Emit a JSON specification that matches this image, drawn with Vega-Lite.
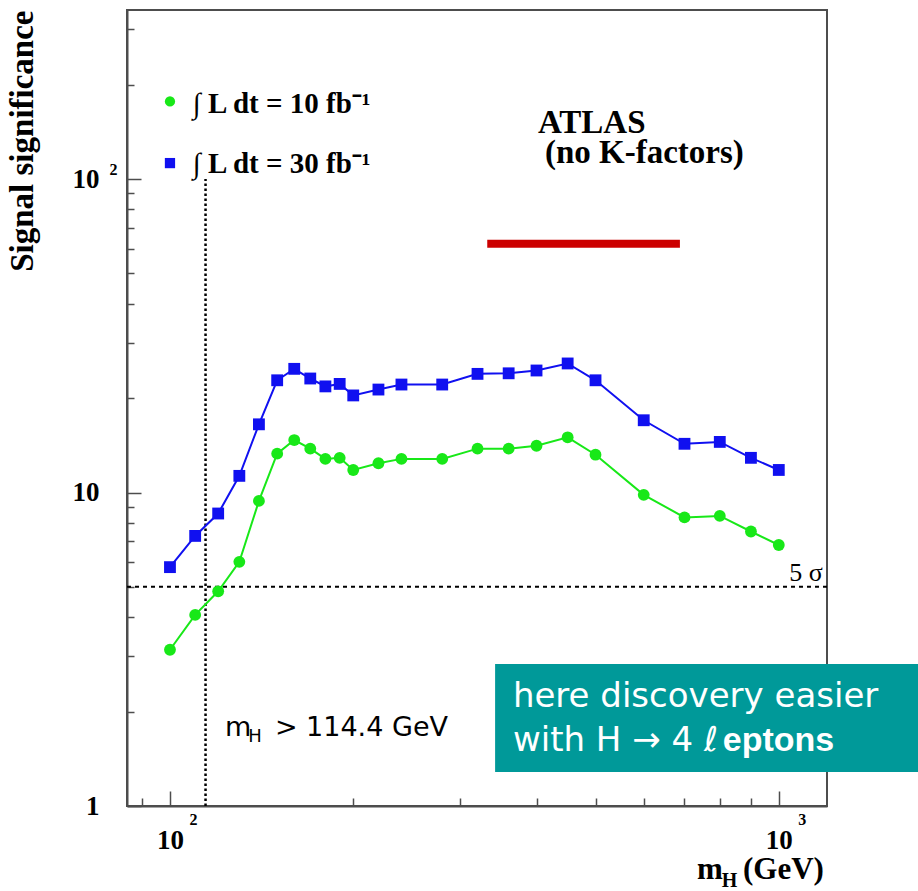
{
  "$schema": "https://vega.github.io/schema/vega-lite/v6.json",
  "width": 700,
  "height": 796,
  "autosize": {"type": "none"},
  "padding": {"left": 127, "top": 10, "right": 91, "bottom": 85},
  "background": "white",
  "config": {"view": {"stroke": "#4d4d4d", "strokeWidth": 2}, "axis": {"grid": false}},
  "datasets": {
    "sig": [
      {"m": 100, "s": 3.15, "series": "10"}, {"m": 110, "s": 4.07, "series": "10"}, {"m": 120, "s": 4.84, "series": "10"},
      {"m": 130, "s": 6.01, "series": "10"}, {"m": 140, "s": 9.40, "series": "10"}, {"m": 150, "s": 13.3, "series": "10"},
      {"m": 160, "s": 14.7, "series": "10"}, {"m": 170, "s": 13.8, "series": "10"}, {"m": 180, "s": 12.8, "series": "10"},
      {"m": 190, "s": 12.9, "series": "10"}, {"m": 200, "s": 11.8, "series": "10"}, {"m": 220, "s": 12.4, "series": "10"},
      {"m": 240, "s": 12.8, "series": "10"}, {"m": 280, "s": 12.8, "series": "10"}, {"m": 320, "s": 13.8, "series": "10"},
      {"m": 360, "s": 13.8, "series": "10"}, {"m": 400, "s": 14.1, "series": "10"}, {"m": 450, "s": 15.0, "series": "10"},
      {"m": 500, "s": 13.2, "series": "10"}, {"m": 600, "s": 9.83, "series": "10"}, {"m": 700, "s": 8.33, "series": "10"},
      {"m": 800, "s": 8.42, "series": "10"}, {"m": 900, "s": 7.51, "series": "10"}, {"m": 1000, "s": 6.80, "series": "10"},
      {"m": 100, "s": 5.78, "series": "30"}, {"m": 110, "s": 7.27, "series": "30"}, {"m": 120, "s": 8.57, "series": "30"},
      {"m": 130, "s": 11.3, "series": "30"}, {"m": 140, "s": 16.5, "series": "30"}, {"m": 150, "s": 22.8, "series": "30"},
      {"m": 160, "s": 24.8, "series": "30"}, {"m": 170, "s": 23.1, "series": "30"}, {"m": 180, "s": 21.8, "series": "30"},
      {"m": 190, "s": 22.2, "series": "30"}, {"m": 200, "s": 20.4, "series": "30"}, {"m": 220, "s": 21.3, "series": "30"},
      {"m": 240, "s": 22.1, "series": "30"}, {"m": 280, "s": 22.1, "series": "30"}, {"m": 320, "s": 23.9, "series": "30"},
      {"m": 360, "s": 24.0, "series": "30"}, {"m": 400, "s": 24.5, "series": "30"}, {"m": 450, "s": 25.8, "series": "30"},
      {"m": 500, "s": 22.8, "series": "30"}, {"m": 600, "s": 17.0, "series": "30"}, {"m": 700, "s": 14.3, "series": "30"},
      {"m": 800, "s": 14.5, "series": "30"}, {"m": 900, "s": 12.9, "series": "30"}, {"m": 1000, "s": 11.8, "series": "30"}
    ]
  },
  "encoding": {
    "x": {
      "field": "m", "type": "quantitative",
      "scale": {"type": "log", "domain": [85, 1200], "nice": false},
      "axis": {
        "title": null,
        "values": [90, 100, 200, 300, 400, 500, 600, 700, 800, 900, 1000],
        "labelExpr": "datum.value == 100 || datum.value == 1000 ? '10' : ''",
        "labelFont": "Liberation Serif", "labelFontWeight": "bold", "labelFontSize": 27, "labelColor": "black",
        "labelFlush": false, "labelOverlap": false, "labelBound": false, "labelPadding": 36,
        "tickSize": {"condition": {"test": "datum.value == 100 || datum.value == 1000", "value": -15}, "value": -8},
        "tickColor": "#4d4d4d", "tickWidth": 1.5,
        "domainColor": "#4d4d4d", "domainWidth": 2
      }
    },
    "y": {
      "field": "s", "type": "quantitative",
      "scale": {"type": "log", "domain": [1, 346], "nice": false},
      "axis": {
        "title": "Signal significance",
        "titleFont": "Liberation Serif", "titleFontWeight": "bold", "titleFontSize": 33, "titleColor": "black",
        "titleAnchor": "end", "titleAngle": -90, "titleAlign": "right", "titleBaseline": "alphabetic",
        "titleX": -95, "titleY": 0,
        "values": [1, 2, 3, 4, 5, 6, 7, 8, 9, 10, 20, 30, 40, 50, 60, 70, 80, 90, 100, 200, 300],
        "labelExpr": "datum.value == 1 ? '1' : (datum.value == 10 || datum.value == 100) ? '10' : ''",
        "labelFont": "Liberation Serif", "labelFontWeight": "bold", "labelFontSize": 27, "labelColor": "black",
        "labelFlush": false, "labelOverlap": false, "labelBound": false, "labelPadding": 42, "labelBaseline": "middle",
        "tickSize": {"condition": {"test": "datum.value == 1 || datum.value == 10 || datum.value == 100", "value": -14}, "value": -7},
        "tickColor": "#4d4d4d", "tickWidth": 1.5,
        "domainColor": "#4d4d4d", "domainWidth": 2
      }
    }
  },
  "layer": [
    {
      "data": {"values": [{"m": 85, "m2": 1200, "s": 5}]},
      "mark": {"type": "rule", "strokeDash": [4, 4], "strokeWidth": 2, "color": "black"},
      "encoding": {"x2": {"field": "m2"}}
    },
    {
      "data": {"values": [{"m": 114.4, "s": 1, "s2": 100}]},
      "mark": {"type": "rule", "strokeDash": [2.5, 2.5], "strokeWidth": 2.5, "color": "black"},
      "encoding": {"y2": {"field": "s2"}}
    },
    {
      "data": {"values": [{"m": 332, "m2": 688, "s": 62.2}]},
      "mark": {"type": "rule", "strokeWidth": 8, "color": "#cc0000", "strokeCap": "butt"},
      "encoding": {"x2": {"field": "m2"}}
    },
    {
      "data": {"name": "sig"},
      "mark": {"type": "line", "strokeWidth": 2},
      "encoding": {
        "color": {"field": "series", "type": "nominal", "scale": {"domain": ["10", "30"], "range": ["#18e818", "#1010f0"]}, "legend": null},
        "detail": {"field": "series"}
      }
    },
    {
      "data": {"name": "sig"},
      "mark": {"type": "point", "filled": true, "size": 140, "opacity": 1},
      "encoding": {
        "color": {"field": "series", "type": "nominal", "scale": {"domain": ["10", "30"], "range": ["#18e818", "#1010f0"]}, "legend": null},
        "shape": {"field": "series", "type": "nominal", "scale": {"domain": ["10", "30"], "range": ["circle", "square"]}, "legend": null}
      }
    },
    {
      "data": {"values": [{"m": 100, "s": 176.7, "series": "10"}, {"m": 100, "s": 112.4, "series": "30"}]},
      "mark": {"type": "point", "filled": true, "size": 105, "opacity": 1},
      "encoding": {
        "color": {"field": "series", "type": "nominal", "scale": {"domain": ["10", "30"], "range": ["#18e818", "#1010f0"]}, "legend": null},
        "shape": {"field": "series", "type": "nominal", "scale": {"domain": ["10", "30"], "range": ["circle", "square"]}, "legend": null}
      }
    },
    {
      "data": {"values": [{"m": 109, "s": 162.3, "t": "∫ L dt = 10 fb⁻¹"}, {"m": 109, "s": 104.5, "t": "∫ L dt = 30 fb⁻¹"}]},
      "mark": {"type": "text", "align": "left", "baseline": "alphabetic", "font": "Liberation Serif", "fontWeight": "bold", "fontSize": 29, "color": "black"},
      "encoding": {"text": {"field": "t"}}
    },
    {
      "data": {"values": [{"m": 402.1, "s": 140.5, "t": "ATLAS"}, {"m": 412.9, "s": 112.6, "t": "(no K-factors)"}]},
      "mark": {"type": "text", "align": "left", "baseline": "alphabetic", "font": "Liberation Serif", "fontWeight": "bold", "fontSize": 33, "color": "black"},
      "encoding": {"text": {"field": "t"}}
    },
    {
      "data": {"values": [{"m": 1181, "s": 5.22, "t": "5 σ"}]},
      "mark": {"type": "text", "align": "right", "baseline": "alphabetic", "font": "Liberation Serif", "fontSize": 26, "color": "black"},
      "encoding": {"text": {"field": "t"}}
    },
    {
      "data": {"values": [{"m": 123.1, "s": 1.675, "t": "m"}, {"m": 148.7, "s": 1.675, "t": "> 114.4 GeV"}]},
      "mark": {"type": "text", "align": "left", "baseline": "alphabetic", "font": "DejaVu Sans", "fontSize": 27, "color": "black"},
      "encoding": {"text": {"field": "t"}}
    },
    {
      "data": {"values": [{"m": 134.5, "s": 1.599, "t": "H"}]},
      "mark": {"type": "text", "align": "left", "baseline": "alphabetic", "font": "DejaVu Sans", "fontSize": 18, "color": "black"},
      "encoding": {"text": {"field": "t"}}
    },
    {
      "data": {"values": [{"m": 342, "m2": 1700, "s": 1.283, "s2": 2.84}]},
      "mark": {"type": "rect", "color": "#009999", "opacity": 1},
      "encoding": {"x2": {"field": "m2"}, "y2": {"field": "s2"}}
    },
    {
      "data": {"values": [{"m": 365.8, "s": 2.071, "t": "here discovery easier"}, {"m": 365.8, "s": 1.5, "t": "with H → 4 ℓ"}]},
      "mark": {"type": "text", "align": "left", "baseline": "alphabetic", "font": "DejaVu Sans", "fontSize": 34, "color": "white"},
      "encoding": {"text": {"field": "t"}}
    },
    {
      "data": {"values": [{"m": 809, "s": 1.5, "t": "eptons"}]},
      "mark": {"type": "text", "align": "left", "baseline": "alphabetic", "font": "Liberation Sans", "fontWeight": "bold", "fontSize": 34, "color": "white"},
      "encoding": {"text": {"field": "t"}}
    },
    {
      "data": {"values": [{"m": 733.6, "s": 0.587, "t": "m"}, {"m": 873.2, "s": 0.587, "t": "(GeV)"}]},
      "mark": {"type": "text", "align": "left", "baseline": "alphabetic", "font": "Liberation Serif", "fontWeight": "bold", "fontSize": 31, "color": "black"},
      "encoding": {"text": {"field": "t"}}
    },
    {
      "data": {"values": [{"m": 806, "s": 0.553, "t": "H"}]},
      "mark": {"type": "text", "align": "left", "baseline": "alphabetic", "font": "Liberation Serif", "fontWeight": "bold", "fontSize": 20, "color": "black"},
      "encoding": {"text": {"field": "t"}}
    },
    {
      "data": {"values": [{"m": 109.3, "s": 0.901, "t": "2"}, {"m": 1093, "s": 0.901, "t": "3"}, {"m": 80.75, "s": 107.1, "t": "2"}]},
      "mark": {"type": "text", "align": "center", "baseline": "middle", "font": "Liberation Serif", "fontWeight": "bold", "fontSize": 16, "color": "black"},
      "encoding": {"text": {"field": "t"}}
    }
  ]
}
